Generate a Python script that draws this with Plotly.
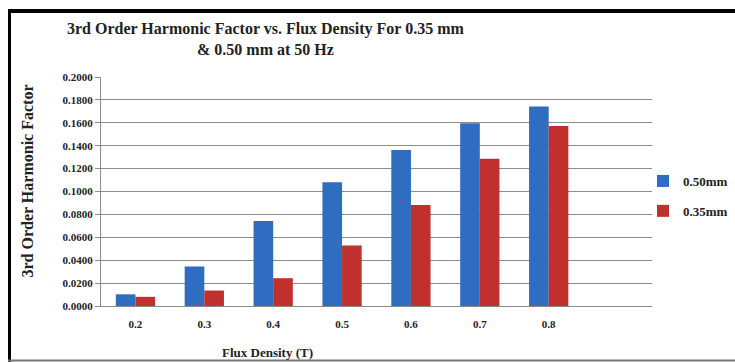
import plotly.graph_objects as go

flux = [0.2, 0.3, 0.4, 0.5, 0.6, 0.7, 0.8]
tick_labels = ["0.2", "0.3", "0.4", "0.5", "0.6", "0.7", "0.8"]
h050 = [0.0102, 0.0345, 0.0742, 0.1080, 0.1362, 0.1595, 0.1742]
h035 = [0.0080, 0.0135, 0.0243, 0.0528, 0.0882, 0.1285, 0.1572]
y_ticks = [0.0, 0.02, 0.04, 0.06, 0.08, 0.10, 0.12, 0.14, 0.16, 0.18, 0.20]

W, H = 735, 362
L, R, T, B = 101, 652, 77, 306
pw, ph = R - L, B - T


def px(x):
    return (x - L) / pw


def py(y):
    return (B - y) / ph


SERIF = "Liberation Serif, Times New Roman, serif"
BLUE = "#2e6dbf"
RED = "#c0302f"

fig = go.Figure()
fig.add_trace(go.Bar(x=flux, y=h050, name="0.50mm", marker=dict(color=BLUE, line_width=0),
                     legendgroup="a"))
fig.add_trace(go.Bar(x=flux, y=h035, name="0.35mm", marker=dict(color=RED, line_width=0),
                     legendgroup="b"))

fig.update_layout(
    width=W, height=H,
    margin=dict(l=L, r=W - R, t=T, b=H - B, autoexpand=False),
    paper_bgcolor="white", plot_bgcolor="white",
    barmode="group", bargap=0.43, bargroupgap=0,
    font=dict(family=SERIF, color="#222222"),
    showlegend=True,
    legend=dict(x=px(643), y=py(166), xanchor="left", yanchor="top",
                font=dict(family=SERIF, size=13, color="#222222", weight="bold"),
                traceorder="grouped", tracegroupgap=10, itemwidth=30,
                bgcolor="rgba(0,0,0,0)"),
)

fig.update_xaxes(
    range=[0.15, 0.95], tickmode="array", tickvals=flux, ticktext=tick_labels,
    showgrid=False, showline=True, linecolor="#8a8a8a", linewidth=1,
    ticks="", tickfont=dict(family=SERIF, size=11, color="#222222", weight="bold"),
    ticklabelstandoff=8, zeroline=False,
)
fig.update_yaxes(
    range=[0, 0.2], tickmode="array", tickvals=y_ticks,
    ticktext=[f"{v:.4f}" for v in y_ticks],
    showgrid=True, gridcolor="#8c8c8c", gridwidth=1,
    showline=True, linecolor="#8a8a8a", linewidth=1,
    ticks="outside", ticklen=5, tickcolor="#8a8a8a",
    tickfont=dict(family=SERIF, size=11, color="#222222", weight="bold"),
    zeroline=False,
)

fig.add_annotation(
    x=px(266), y=py(38.5), xref="paper", yref="paper", xanchor="center", yanchor="middle",
    text="3rd Order Harmonic Factor vs. Flux Density For 0.35 mm<br>& 0.50 mm at 50 Hz",
    showarrow=False, font=dict(family=SERIF, size=16, color="#222222", weight="bold"),
)
fig.add_annotation(
    x=px(27), y=py(181.5), xref="paper", yref="paper", xanchor="center", yanchor="middle",
    text="3rd Order Harmonic Factor", textangle=-90, showarrow=False,
    font=dict(family=SERIF, size=16, color="#222222", weight="bold"),
)
fig.add_annotation(
    x=px(267), y=py(352), xref="paper", yref="paper", xanchor="center", yanchor="middle",
    text="Flux Density (T)", showarrow=False,
    font=dict(family=SERIF, size=13, color="#222222", weight="bold"),
)

# outer frame
fig.add_shape(type="line", xref="paper", yref="paper", x0=px(8), x1=px(740), y0=py(11), y1=py(11),
              line=dict(color="black", width=4))
fig.add_shape(type="line", xref="paper", yref="paper", x0=px(9.5), x1=px(9.5), y0=py(9), y1=py(362),
              line=dict(color="black", width=3))
fig.add_shape(type="line", xref="paper", yref="paper", x0=px(8), x1=px(740), y0=py(360.5), y1=py(360.5),
              line=dict(color="#777777", width=2))

fig.write_html("out.html")
